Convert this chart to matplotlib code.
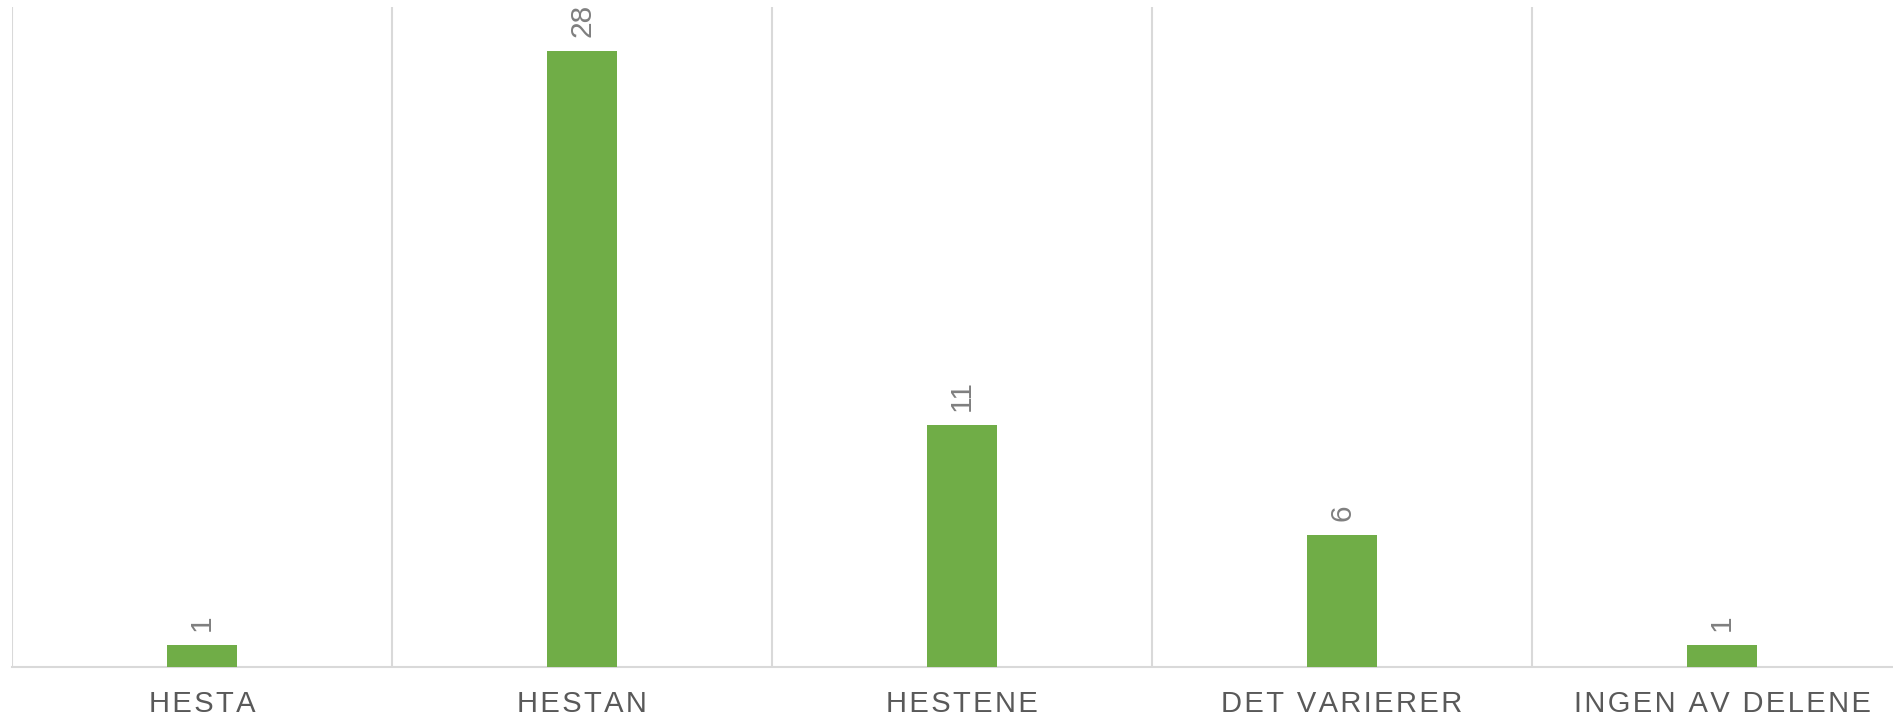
import matplotlib
matplotlib.use("Agg")
import matplotlib.pyplot as plt

categories = ["HESTA", "HESTAN", "HESTENE", "DET VARIERER", "INGEN AV DELENE"]
values = [1, 28, 11, 6, 1]

BAR_COLOR = "#70AD47"
GRID_COLOR = "#D9D9D9"
LABEL_COLOR = "#595959"
DATA_COLOR = "#7F7F7F"

plt.rcParams["font.family"] = ["Liberation Sans", "DejaVu Sans"]

def spaced(s):
    return "\u200A".join(s)

W, H = 1893, 719
fig = plt.figure(figsize=(W / 100, H / 100), dpi=100)
left, right = 12, 12 + 5 * 380
bottom, top = 666.7, 7
ax = fig.add_axes([left / W, (H - bottom) / H, (right - left) / W, (bottom - top) / H])

x = list(range(len(categories)))
bars = ax.bar(x, values, width=0.184, color=BAR_COLOR, zorder=3)

ax.set_xlim(-0.5, len(categories) - 0.5)
ax.set_ylim(0, 30)

for xb in [i - 0.5 for i in range(len(categories) + 1)]:
    ax.axvline(xb, color=GRID_COLOR, lw=1.5, zorder=1)

for s in ["top", "right", "left"]:
    ax.spines[s].set_visible(False)
ax.spines["bottom"].set_color(GRID_COLOR)
ax.spines["bottom"].set_linewidth(1.5)
ax.set_yticks([])
ax.set_xticks(x)
ax.set_xticklabels([spaced(c) for c in categories], fontsize=21, color=LABEL_COLOR)
ax.tick_params(axis="x", length=0, pad=17)

for xi, v in zip(x, values):
    ax.annotate(str(v), xy=(xi, v), xytext=(0, 10), textcoords="offset points",
                rotation=90, ha="center", va="bottom", fontsize=21.5, color=DATA_COLOR)

fig.savefig("out.png", dpi=100)
